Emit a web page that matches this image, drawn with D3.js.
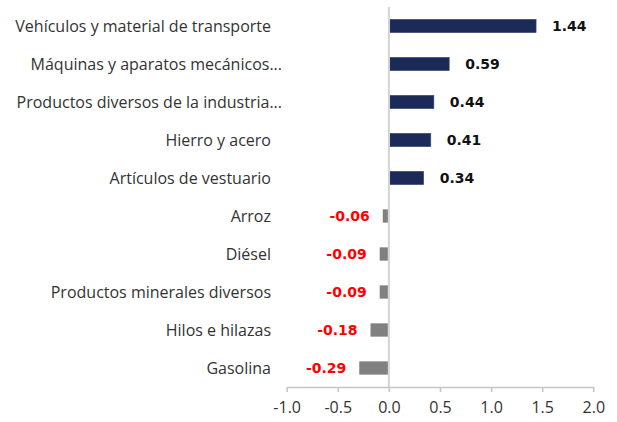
<!DOCTYPE html>
<html>
<head>
<meta charset="utf-8">
<script src="https://cdn.jsdelivr.net/npm/d3@7"></script>
<style>
  html, body { margin: 0; padding: 0; background: #fff; }
  svg { display: block; }
</style>
</head>
<body>
<svg id="chart" width="617" height="422"></svg>
<script>
// Product categories (top to bottom) and their contributions
const categories = [
  "Vehículos y material de transporte",
  "Máquinas y aparatos mecánicos...",
  "Productos diversos de la industria...",
  "Hierro y acero",
  "Artículos de vestuario",
  "Arroz",
  "Diésel",
  "Productos minerales diversos",
  "Hilos e hilazas",
  "Gasolina"
];
const values = [1.44, 0.59, 0.44, 0.41, 0.34, -0.06, -0.09, -0.09, -0.18, -0.29];
const xTicks = [-1.0, -0.5, 0.0, 0.5, 1.0, 1.5, 2.0];

const svg = d3.select("#chart");
const labelFont = "'Open Sans', sans-serif";

const x = d3.scaleLinear().domain([-1, 2]).range([286.7, 593.3]);
const y = d3.scaleBand()
  .domain(categories)
  .range([7, 387])
  .paddingInner(0.65)
  .paddingOuter(0.325);

// Bars
svg.append("g")
  .selectAll("rect")
  .data(values)
  .join("rect")
  .attr("x", d => d >= 0 ? x(0) + 1 : x(d))
  .attr("width", d => Math.max(0, Math.abs(x(d) - x(0)) - 1))
  .attr("y", (d, i) => y(categories[i]))
  .attr("height", y.bandwidth())
  .attr("fill", d => d >= 0 ? "#1b2a57" : "#808080")
  .attr("stroke", d => d >= 0 ? "#3a4a78" : "none")
  .attr("stroke-width", 0.6);

// Zero line
svg.append("line")
  .attr("x1", x(0)).attr("x2", x(0))
  .attr("y1", 7).attr("y2", 387)
  .attr("stroke", "#d4d4d4")
  .attr("stroke-width", 2);

// X axis
const xAxis = d3.axisBottom(x)
  .tickValues(xTicks)
  .tickFormat(d3.format(".1f"))
  .tickSize(5)
  .tickSizeOuter(0);

const gx = svg.append("g")
  .attr("transform", "translate(0,387)")
  .call(xAxis);
gx.select(".domain").attr("stroke", "#c6c6c6").attr("stroke-width", 1.6);
gx.selectAll(".tick line").attr("stroke", "#c6c6c6").attr("stroke-width", 1.6);
gx.selectAll(".tick text")
  .attr("y", 21)
  .attr("dy", "0.32em")
  .attr("fill", "#333")
  .style("font-family", labelFont)
  .style("font-size", "16px")
  .text(d => d3.format(".1f")(d).replace("−", "-"));

// Category labels (truncated names run slightly further right)
svg.append("g")
  .selectAll("text")
  .data(categories)
  .join("text")
  .attr("x", d => d.endsWith("...") ? 282 : 271)
  .attr("y", d => y(d) + y.bandwidth() / 2)
  .attr("dy", "0.35em")
  .attr("text-anchor", "end")
  .attr("fill", "#333")
  .style("font-family", labelFont)
  .style("font-size", "16px")
  .text(d => d);

// Value labels
svg.append("g")
  .selectAll("text")
  .data(values)
  .join("text")
  .attr("x", d => d >= 0 ? x(d) + 16 : x(d) - 13)
  .attr("y", (d, i) => y(categories[i]) + y.bandwidth() / 2)
  .attr("dy", "0.36em")
  .attr("text-anchor", d => d >= 0 ? "start" : "end")
  .attr("fill", d => d >= 0 ? "#111" : "#ff0000")
  .style("font-family", "'DejaVu Sans', Verdana, sans-serif")
  .style("font-weight", "bold")
  .style("font-size", "14px")
  .text(d => d3.format(".2f")(d).replace("−", "-"));
</script>
</body>
</html>
